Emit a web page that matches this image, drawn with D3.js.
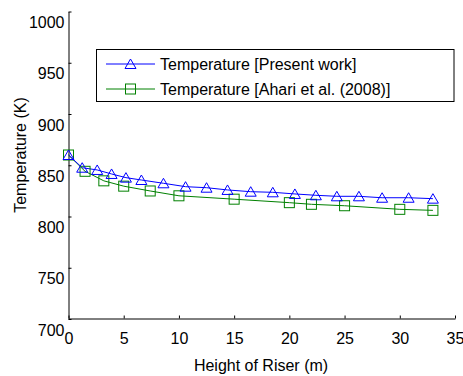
<!DOCTYPE html>
<html>
<head>
<meta charset="utf-8">
<script src="https://cdn.jsdelivr.net/npm/d3@7"></script>
<style>
  body { margin: 0; background: #fff; }
  text { font-family: "Liberation Sans", Arial, sans-serif; }
</style>
</head>
<body>
<div id="chart"></div>
<script>
// data
var presentHeight = [0, 1.24, 2.6, 3.9, 5.2, 6.6, 8.6, 10.6, 12.5, 14.4, 16.5, 18.5, 20.5, 22.4, 24.3, 26.3, 28.4, 30.8, 33];
var presentTemp = [860, 847.6, 845.4, 841.5, 837.9, 835.6, 832.4, 829.1, 828.1, 825.9, 824.2, 823.6, 822, 820.7, 819.7, 819.7, 818.3, 818.3, 817.4];
var ahariHeight = [0, 1.5, 3.2, 5, 7.4, 10, 15, 20, 22, 25, 30, 33];
var ahariTemp = [860, 844.1, 834.8, 829.6, 824.9, 820.2, 816.9, 813.5, 811.9, 810.5, 807, 806];
var xTicks = [0, 5, 10, 15, 20, 25, 30, 35];
var yTicks = [700, 750, 800, 850, 900, 950, 1000];
var seriesNames = ["Temperature [Present work]", "Temperature [Ahari et al. (2008)]"];

var svgWidth = 463;
var svgHeight = 376;
var margin = { top: 11.5, right: 8, bottom: 57, left: 68.5 };
var width = svgWidth - margin.left - margin.right;
var height = svgHeight - margin.top - margin.bottom;

var svg = d3.select("#chart")
  .append("svg")
  .attr("width", svgWidth)
  .attr("height", svgHeight);

var chartGroup = svg.append("g")
  .attr("transform", `translate(${margin.left}, ${margin.top})`);

var x = d3.scaleLinear().domain([0, 35]).range([0, width]);
var y = d3.scaleLinear().domain([700, 1000]).range([height, 0]);

// axes, ticks point inward like matlab
var bottomAxis = d3.axisBottom(x).tickValues(xTicks).tickFormat(d3.format("d"))
  .tickSizeInner(-3).tickSizeOuter(0).tickPadding(14);
var leftAxis = d3.axisLeft(y).tickValues(yTicks).tickFormat(d3.format("d"))
  .tickSizeInner(-3).tickSizeOuter(0).tickPadding(4);

var xAxis = chartGroup.append("g")
  .attr("transform", `translate(0, ${height - 0.5})`)
  .call(bottomAxis);
xAxis.selectAll("text").attr("dy", "0.71em");

var yAxis = chartGroup.append("g").call(leftAxis);
// the y labels sit a bit under their ticks in the picture
yAxis.selectAll("text").attr("dy", "1.0em");

svg.selectAll(".domain").attr("stroke", "#000");
svg.selectAll(".tick line").attr("stroke", "#000");
svg.selectAll(".tick text")
  .attr("fill", "#000")
  .style("font-size", "16px")
  .style("font-family", "'Liberation Sans', Arial, sans-serif");

// axis titles
svg.append("text")
  .attr("x", 261)
  .attr("y", 371)
  .attr("text-anchor", "middle")
  .style("font-size", "16px")
  .text("Height of Riser (m)");

svg.append("text")
  .attr("transform", "translate(26, 155) rotate(-90)")
  .attr("text-anchor", "middle")
  .style("font-size", "16px")
  .text("Temperature (K)");

var presentData = presentHeight.map((h, i) => ({ h: h, t: presentTemp[i] }));
var ahariData = ahariHeight.map((h, i) => ({ h: h, t: ahariTemp[i] }));

var line = d3.line().x(d => x(d.h)).y(d => y(d.t));

var triPath = "M0,-5L5.5,4.5L-5.5,4.5Z";

chartGroup.append("path")
  .datum(ahariData)
  .attr("d", line)
  .attr("fill", "none")
  .attr("stroke", "#008000")
  .attr("stroke-width", 1);

chartGroup.append("path")
  .datum(presentData)
  .attr("d", line)
  .attr("fill", "none")
  .attr("stroke", "#0000ff")
  .attr("stroke-width", 1);

chartGroup.selectAll(".sq")
  .data(ahariData)
  .enter()
  .append("rect")
  .attr("x", d => x(d.h) - 5)
  .attr("y", d => y(d.t) - 5)
  .attr("width", 10)
  .attr("height", 10)
  .attr("fill", "none")
  .attr("stroke", "#008000")
  .attr("stroke-width", 1);

chartGroup.selectAll(".tri")
  .data(presentData)
  .enter()
  .append("path")
  .attr("d", triPath)
  .attr("transform", d => `translate(${x(d.h)}, ${y(d.t)})`)
  .attr("fill", "none")
  .attr("stroke", "#0000ff")
  .attr("stroke-width", 1);

// legend
var legend = svg.append("g");
legend.append("rect")
  .attr("x", 96.5)
  .attr("y", 49.5)
  .attr("width", 357.5)
  .attr("height", 52)
  .attr("fill", "#fff")
  .attr("stroke", "#000");

var legendColors = ["#0000ff", "#008000"];
var rowY = [64, 89];
seriesNames.forEach(function(name, i) {
  legend.append("line")
    .attr("x1", 106).attr("x2", 155)
    .attr("y1", rowY[i]).attr("y2", rowY[i])
    .attr("stroke", legendColors[i]);
  if (i === 0) {
    legend.append("path")
      .attr("d", triPath)
      .attr("transform", `translate(130.5, ${rowY[i]})`)
      .attr("fill", "none")
      .attr("stroke", legendColors[i]);
  } else {
    legend.append("rect")
      .attr("x", 125.5).attr("y", rowY[i] - 5)
      .attr("width", 10).attr("height", 10)
      .attr("fill", "none")
      .attr("stroke", legendColors[i]);
  }
  legend.append("text")
    .attr("x", 160)
    .attr("y", rowY[i])
    .attr("dy", "0.35em")
    .style("font-size", "16px")
    .text(name);
});
</script>
</body>
</html>
